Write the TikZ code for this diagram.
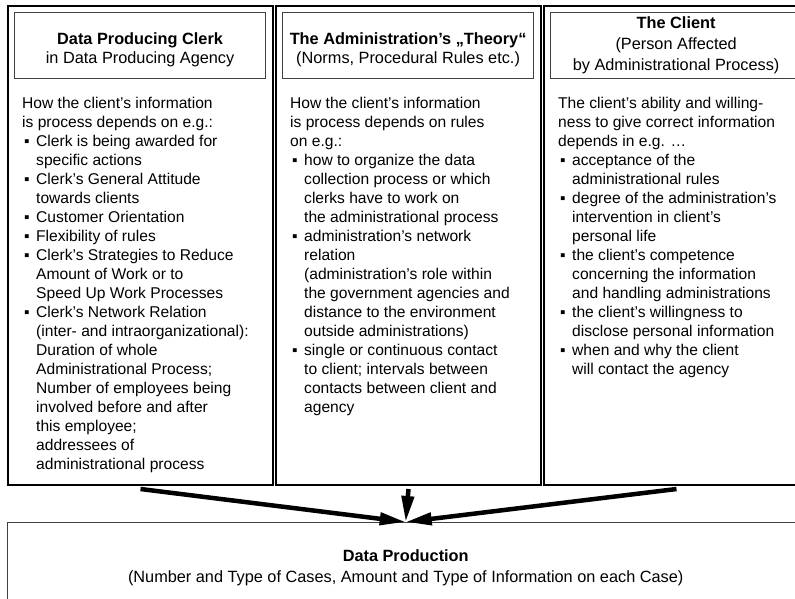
\documentclass[tikz,border=0pt]{standalone}
\usepackage{fontspec}
\setmainfont{Liberation Sans}
\usetikzlibrary{arrows.meta}
\newcommand\itm{\makebox[14pt][l]{\hspace{2pt}▪}}
\newcommand\ind{\hspace*{14pt}}
\tikzset{
  colbox/.style={draw, line width=2pt, anchor=north west, inner sep=0pt,
    minimum width=265pt, minimum height=479pt},
  headbox/.style={draw=black!75, line width=1.2pt, anchor=north west, inner sep=0pt,
    minimum width=251pt, minimum height=66pt},
  headtext/.style={inner sep=0pt, align=center, font=\fontsize{16.3}{19}\selectfont},
  body/.style={anchor=north west, inner sep=0pt, align=left,
    font=\fontsize{15.6}{19}\selectfont},
  bigarrow/.style={line width=4.5pt, -{Triangle[length=26pt,width=12pt]}}
}
\begin{document}
\begin{tikzpicture}[x=1pt,y=-1pt]
\clip (0,0) rectangle (795,599);
\node[colbox] (clerk) at (7,5) {};
\node[colbox] (theory) at (275,5) {};
\node[colbox] (client) at (543,5) {};
\node[headbox] (clerkhead) at (14,12) {};
\node[headbox] (theoryhead) at (282,12) {};
\node[headbox] (clienthead) at (550,12) {};
\node[headtext] at ([yshift=-4pt]clerkhead.center) {\textbf{Data Producing Clerk}\\in Data Producing Agency};
\node[headtext] at ([yshift=-4pt]theoryhead.center) {\textbf{The Administration’s „Theory“}\\(Norms, Procedural Rules etc.)};
\node[headtext, font=\fontsize{16.3}{21}\selectfont] at (clienthead.center) {\textbf{The Client}\\(Person Affected\\by Administrational Process)};
\node[body] (clerktext) at (22,97) {How the client’s information\\
is process depends on e.g.:\\
\itm Clerk is being awarded for\\
\ind specific actions\\
\itm Clerk’s General Attitude\\
\ind towards clients\\
\itm Customer Orientation\\
\itm Flexibility of rules\\
\itm Clerk’s Strategies to Reduce\\
\ind Amount of Work or to\\
\ind Speed Up Work Processes\\
\itm Clerk’s Network Relation\\
\ind (inter- and intraorganizational):\\
\ind Duration of whole\\
\ind Administrational Process;\\
\ind Number of employees being\\
\ind involved before and after\\
\ind this employee;\\
\ind addressees of\\
\ind administrational process};
\node[body] (theorytext) at (290,97) {How the client’s information\\
is process depends on rules\\
on e.g.:\\
\itm how to organize the data\\
\ind collection process or which\\
\ind clerks have to work on\\
\ind the administrational process\\
\itm administration’s network\\
\ind relation\\
\ind (administration’s role within\\
\ind the government agencies and\\
\ind distance to the environment\\
\ind outside administrations)\\
\itm single or continuous contact\\
\ind to client; intervals between\\
\ind contacts between client and\\
\ind agency};
\node[body] (clienttext) at (558,97) {The client’s ability and willing-\\
ness to give correct information\\
depends in e.g. …\\
\itm acceptance of the\\
\ind administrational rules\\
\itm degree of the administration’s\\
\ind intervention in client’s\\
\ind personal life\\
\itm the client’s competence\\
\ind concerning the information\\
\ind and handling administrations\\
\itm the client’s willingness to\\
\ind disclose personal information\\
\itm when and why the client\\
\ind will contact the agency};
\node[draw=black!75, line width=1.4pt, anchor=north west, inner sep=0pt,
  minimum width=796pt, minimum height=90pt, align=center,
  font=\fontsize{16.3}{21}\selectfont] (prod) at (7,522)
  {\textbf{Data Production}\\(Number and Type of Cases, Amount and Type of Information on each Case)};
\draw[bigarrow] ([yshift=-3pt]clerk.south) -- (prod.north);
\draw[bigarrow] ([yshift=-3pt]theory.south) -- (prod.north);
\draw[bigarrow] ([yshift=-3pt]client.south) -- (prod.north);
\end{tikzpicture}
\end{document}
